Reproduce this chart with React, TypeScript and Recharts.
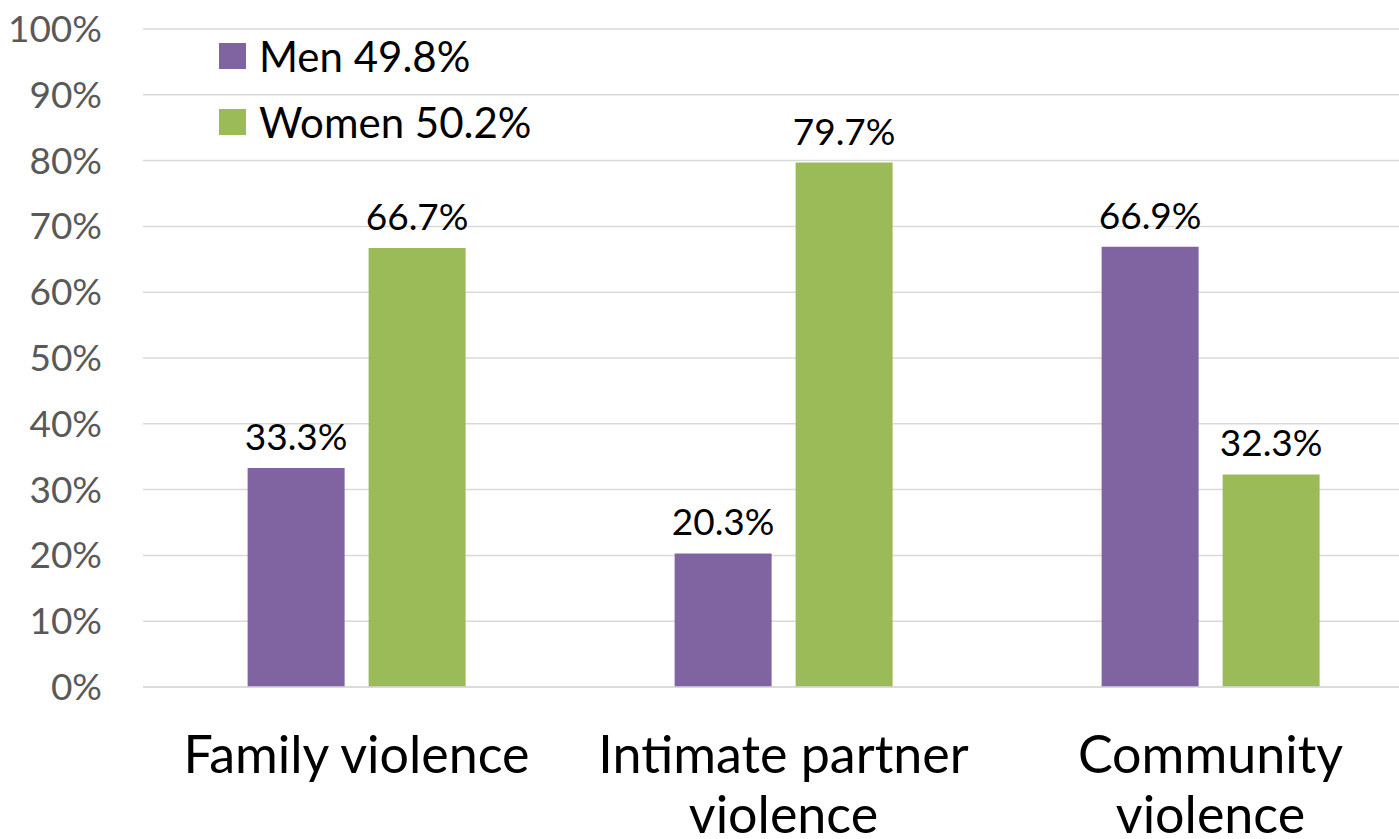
import React from 'react';
import { BarChart, Bar, XAxis, YAxis, CartesianGrid, LabelList } from 'recharts';

const categories = ['Family violence', 'Intimate partner violence', 'Community violence'];
const categoryLines = [['Family violence'], ['Intimate partner', 'violence'], ['Community', 'violence']];
const menValues = [33.3, 20.3, 66.9];
const womenValues = [66.7, 79.7, 32.3];
const seriesNames = ['Men 49.8%', 'Women 50.2%'];
const yTicks = [0, 10, 20, 30, 40, 50, 60, 70, 80, 90, 100];

const data = categories.map((c, i) => ({ name: c, idx: i, men: menValues[i], women: womenValues[i] }));

const FONT = 'Lato, "Open Sans", sans-serif';
const PURPLE = '#8064A2';
const GREEN = '#9BBB59';

const XTick = (props: any) => {
  const { x, y, payload } = props;
  const lines = categoryLines[payload.index] || [payload.value];
  return (
    <g>
      {lines.map((l: string, i: number) => (
        <text key={i} x={x} y={y + 78 + i * 60} textAnchor="middle" fontFamily={FONT} fontSize={52} fill="#000">
          {l}
        </text>
      ))}
    </g>
  );
};

const YTick = (props: any) => {
  const { y, payload } = props;
  return (
    <text x={102} y={y + 13} textAnchor="end" fontFamily={FONT} fontSize={37} fill="#595959">
      {payload.value + '%'}
    </text>
  );
};

const LegendBox = () => (
  <div style={{ position: 'absolute', left: 219, top: 43, fontFamily: FONT }}>
    {seriesNames.map((n, i) => (
      <div key={n} style={{ position: 'absolute', left: 0, top: i * 66, height: 26, display: 'flex', alignItems: 'center' }}>
        <div style={{ width: 27, height: 26, background: i === 0 ? PURPLE : GREEN, flex: 'none' }} />
        <span style={{ marginLeft: 13, fontSize: 42, color: '#000', whiteSpace: 'nowrap', lineHeight: '26px' }}>{n}</span>
      </div>
    ))}
  </div>
);

const fmt = (v: any) => `${v}%`;

export default function App() {
  return (
    <div style={{ position: 'fixed', left: 0, top: 0, width: 1399, height: 839, overflow: 'hidden', background: '#fff' }}>
      <BarChart
        width={1424}
        height={839}
        data={data}
        margin={{ top: 29, right: 0, bottom: 0, left: 0 }}
        barCategoryGap="24.5%"
        barGap={24}
      >
        <CartesianGrid vertical={false} stroke="#D9D9D9" strokeWidth={1.5} />
        <YAxis
          width={143}
          domain={[0, 100]}
          ticks={yTicks}
          axisLine={false}
          tickLine={false}
          tick={<YTick />}
          interval={0}
        />
        <XAxis
          dataKey="name"
          height={152}
          axisLine={{ stroke: '#D9D9D9', strokeWidth: 1.5 }}
          tickLine={false}
          tick={<XTick />}
          interval={0}
        />
        <Bar dataKey="men" name={seriesNames[0]} fill={PURPLE} isAnimationActive={false}>
          <LabelList dataKey="men" position="top" offset={18} formatter={fmt} fontFamily={FONT} fontSize={37} fill="#000" />
        </Bar>
        <Bar dataKey="women" name={seriesNames[1]} fill={GREEN} isAnimationActive={false}>
          <LabelList dataKey="women" position="top" offset={18} formatter={fmt} fontFamily={FONT} fontSize={37} fill="#000" />
        </Bar>
      </BarChart>
      <LegendBox />
    </div>
  );
}
